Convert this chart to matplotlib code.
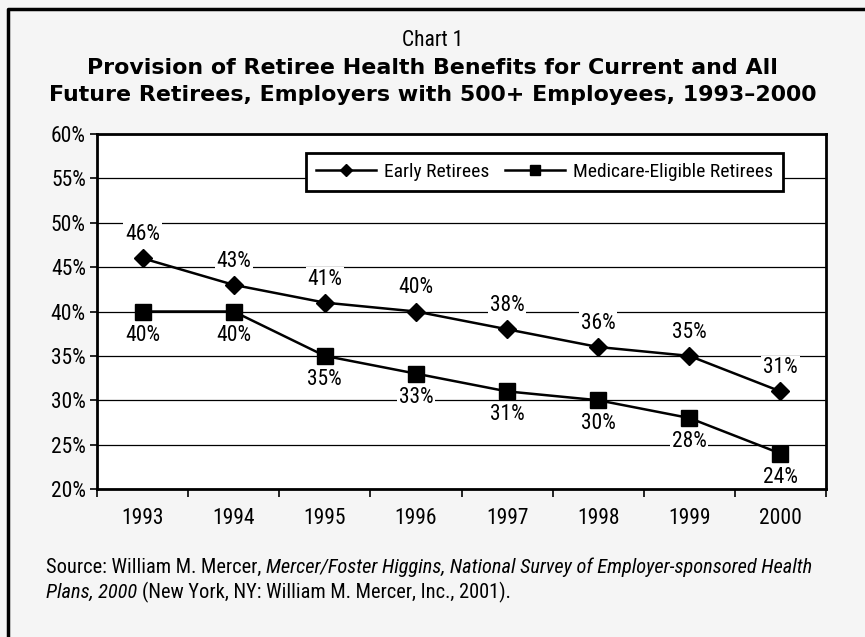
import matplotlib
matplotlib.use('Agg')
import matplotlib.pyplot as plt
from matplotlib.lines import Line2D

years = ['1993', '1994', '1995', '1996', '1997', '1998', '1999', '2000']
early = [46, 43, 41, 40, 38, 36, 35, 31]
medicare = [40, 40, 35, 33, 31, 30, 28, 24]
y_ticks = [20, 25, 30, 35, 40, 45, 50, 55, 60]

chart_no = 'Chart 1'
title_lines = ['Provision of Retiree Health Benefits for Current and All',
               'Future Retirees, Employers with 500+ Employees, 1993\u20132000']
source_line1 = [('Source: William M. Mercer,', 'normal'),
                ('Mercer/Foster Higgins, National Survey of Employer-sponsored Health', 'italic')]
source_line2 = [('Plans, 2000', 'italic'),
                ('(New York, NY: William M. Mercer, Inc., 2001).', 'normal')]

NARROW = ['Roboto Condensed', 'Archivo Narrow', 'Sofia Sans Condensed', 'DejaVu Sans']
plt.rcParams['font.family'] = NARROW
FS = 15.5

W, H = 865, 637
fig = plt.figure(figsize=(W / 100, H / 100), dpi=100, facecolor='#f5f5f5')
ax = fig.add_axes([97 / W, 1 - 489 / H, 729 / W, 355 / H])
ax.set_facecolor('white')

x = list(range(len(years)))
ax.plot(x, early, color='black', lw=1.8, marker='D', ms=9, mfc='black', mec='black',
        label='Early Retirees', zorder=3)
ax.plot(x, medicare, color='black', lw=1.8, marker='s', ms=11, mfc='black', mec='black',
        label='Medicare-Eligible Retirees', zorder=3)

ax.set_xlim(-0.5, len(years) - 0.5)
ax.set_ylim(20, 60)
ax.set_yticks(y_ticks)
ax.set_yticklabels([f'{v}%' for v in y_ticks])
ax.set_xticks(x)
ax.set_xticklabels(years)
ax.set_xticks([i - 0.5 for i in range(len(years) + 1)], minor=True)
ax.tick_params(axis='x', which='major', length=0, pad=14, labelsize=FS)
ax.tick_params(axis='x', which='minor', length=6, width=1.2, direction='out')
ax.tick_params(axis='y', length=5, width=1.2, pad=3, labelsize=FS)
ax.yaxis.grid(True, color='black', lw=0.9)
ax.set_axisbelow(True)
for s in ax.spines.values():
    s.set_linewidth(2)

lab_box = dict(boxstyle='square,pad=0.08', fc='white', ec='none')
for i, v in enumerate(early):
    ax.annotate(f'{v}%', (i, v), xytext=(0, 17), textcoords='offset points',
                ha='center', va='center', fontsize=FS, bbox=lab_box, zorder=2.5)
for i, v in enumerate(medicare):
    ax.annotate(f'{v}%', (i, v), xytext=(0, -17), textcoords='offset points',
                ha='center', va='center', fontsize=FS, bbox=lab_box, zorder=2.5)

leg = ax.legend(loc='upper right', bbox_to_anchor=(0.941, 0.946), ncol=2, fontsize=14,
                frameon=True, fancybox=False, edgecolor='black', facecolor='white',
                framealpha=1, handlelength=3.1, markerscale=0.65, borderpad=0.5,
                borderaxespad=0, columnspacing=0.8, handletextpad=0.4)
leg.get_frame().set_linewidth(2)

# frame round the whole chart (only left and top show)
fig.add_artist(Line2D([8 / W, 8 / W, 1.01], [-0.01, 1 - 9 / H, 1 - 9 / H],
                      color='black', lw=2.5, transform=fig.transFigure))

fig.text(0.5, 1 - 40 / H, chart_no, ha='center', va='center', fontsize=FS)
renderer = fig.canvas.get_renderer()
t1 = fig.text(0.5, 1 - 68 / H, title_lines[0], ha='center', va='center',
              family='DejaVu Sans', weight='bold', fontsize=14)
t2 = fig.text(0.5, 1 - 95 / H, title_lines[1], ha='center', va='center',
              family='DejaVu Sans', weight='bold', fontsize=14)
fs = 14 * 769 / t2.get_window_extent(renderer).width
t1.set_fontsize(fs)
t2.set_fontsize(fs)


def put_line(x0, y, pieces, size):
    sp = fig.text(0, 0, 'a a', fontsize=size)
    nsp = fig.text(0, 0, 'aa', fontsize=size)
    gap = sp.get_window_extent(renderer).width - nsp.get_window_extent(renderer).width
    sp.remove()
    nsp.remove()
    xp = x0
    for txt, st in pieces:
        t = fig.text(xp / W, 1 - y / H, txt, ha='left', va='center', fontsize=size, style=st)
        xp += t.get_window_extent(renderer).width + gap
    return xp - gap - x0


# size the source note so its first line spans the same width as in the chart
probe = fig.text(0, 0, ''.join(p[0] for p in source_line1), fontsize=14)
src_size = min(16, 14 * 782 / probe.get_window_extent(renderer).width)
probe.remove()
put_line(46, 567, source_line1, src_size)
put_line(46, 592, source_line2, src_size)

fig.savefig('out.png', dpi=100, facecolor=fig.get_facecolor())
